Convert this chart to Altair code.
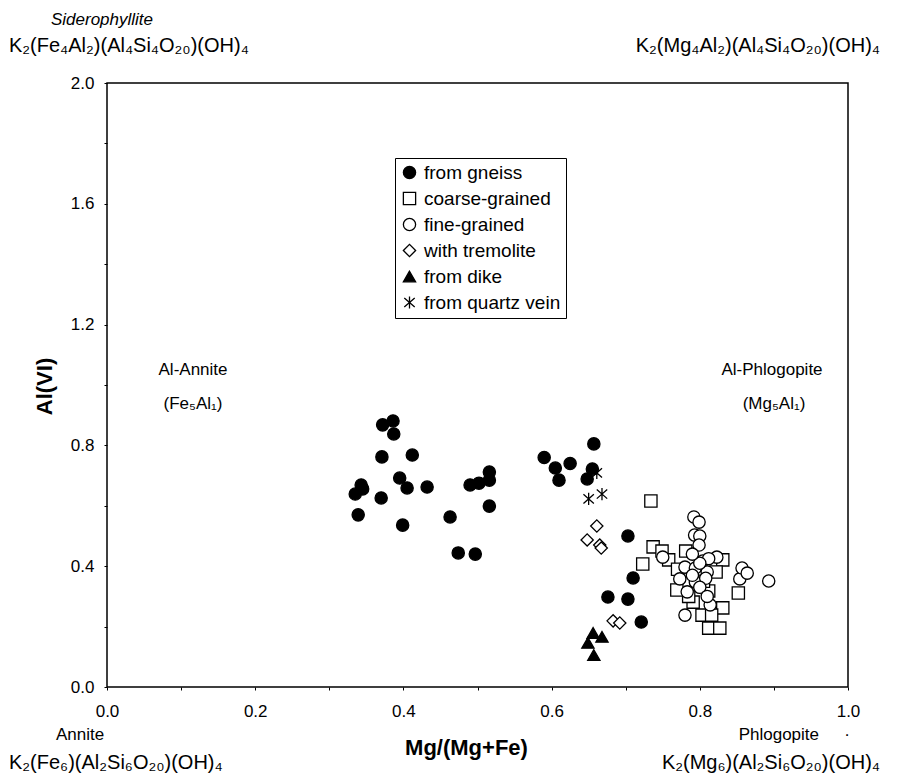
import altair as alt
import pandas as pd

# ---------------- data ----------------
categories = ["from gneiss", "coarse-grained", "fine-grained",
              "with tremolite", "from dike", "from quartz vein"]

gneiss_x = [0.372, 0.386, 0.387, 0.371, 0.412, 0.395, 0.405, 0.432, 0.343, 0.335,
            0.345, 0.370, 0.339, 0.399, 0.463, 0.490, 0.502, 0.516, 0.516, 0.516,
            0.474, 0.497, 0.590, 0.605, 0.625, 0.610, 0.648, 0.655, 0.657, 0.703,
            0.710, 0.676, 0.703, 0.721]
gneiss_y = [0.868, 0.881, 0.838, 0.762, 0.768, 0.692, 0.659, 0.662, 0.669, 0.639,
            0.656, 0.626, 0.570, 0.536, 0.563, 0.669, 0.675, 0.712, 0.685, 0.599,
            0.444, 0.440, 0.760, 0.725, 0.740, 0.685, 0.689, 0.722, 0.805, 0.500,
            0.361, 0.298, 0.291, 0.215]

coarse_x = [0.734, 0.737, 0.749, 0.758, 0.723, 0.781, 0.831, 0.822, 0.812, 0.769,
            0.791, 0.831, 0.803, 0.816, 0.812, 0.827, 0.852, 0.785, 0.805, 0.770]
coarse_y = [0.616, 0.464, 0.450, 0.421, 0.407, 0.450, 0.421, 0.381, 0.318, 0.321,
            0.281, 0.262, 0.238, 0.238, 0.195, 0.195, 0.311, 0.300, 0.350, 0.390]

fine_x = [0.792, 0.799, 0.793, 0.800, 0.799, 0.750, 0.823, 0.804, 0.812, 0.780,
          0.794, 0.810, 0.800, 0.773, 0.794, 0.790, 0.808, 0.783, 0.800, 0.814,
          0.810, 0.780, 0.854, 0.857, 0.864, 0.893, 0.790]
fine_y = [0.563, 0.546, 0.503, 0.500, 0.470, 0.430, 0.430, 0.417, 0.425, 0.397,
          0.394, 0.381, 0.410, 0.358, 0.348, 0.370, 0.360, 0.315, 0.330, 0.272,
          0.300, 0.238, 0.358, 0.394, 0.377, 0.351, 0.440]

trem_x = [0.661, 0.648, 0.665, 0.667, 0.683, 0.692]
trem_y = [0.533, 0.487, 0.470, 0.460, 0.219, 0.212]

dike_x = [0.656, 0.668, 0.649, 0.657]
dike_y = [0.179, 0.166, 0.146, 0.106]

vein_x = [0.661, 0.650, 0.668]
vein_y = [0.709, 0.623, 0.639]

x_ticks = [round(i * 0.1, 1) for i in range(11)]
y_ticks = [round(i * 0.2, 1) for i in range(11)]

groups = [(categories[0], gneiss_x, gneiss_y), (categories[1], coarse_x, coarse_y),
          (categories[2], fine_x, fine_y), (categories[3], trem_x, trem_y),
          (categories[4], dike_x, dike_y), (categories[5], vein_x, vein_y)]
rows = []
for name, xs, ys in groups:
    for a, b in zip(xs, ys):
        rows.append({"mg": a, "al": b, "type": name})
df = pd.DataFrame(rows)

asterisk = "M0,-1L0,1M-0.85,-0.75L0.85,0.75M-0.85,0.75L0.85,-0.75"

FONT = "Liberation Sans"

leg = dict(title=None, orient="none", legendX=288, legendY=75)

points = alt.Chart(df).mark_point(filled=False, stroke="black", strokeWidth=1.3, opacity=1).encode(
    x=alt.X("mg:Q", scale=alt.Scale(domain=[0, 1], nice=False, zero=False),
            axis=alt.Axis(values=x_ticks, title="Mg/(Mg+Fe)", grid=False,
                          labelExpr="round(datum.value*10) % 2 == 0 ? format(datum.value, '.1f') : ''",
                          tickSize=3, labelPadding=13, domain=False, labelFlush=False,
                          titleX=359, titleY=60, titleBaseline="middle",
                          titleFontWeight="bold", titleFontSize=22)),
    y=alt.Y("al:Q", scale=alt.Scale(domain=[0, 2], nice=False, zero=False),
            axis=alt.Axis(values=y_ticks, title="Al(VI)", grid=False,
                          labelExpr="round(datum.value*5) % 2 == 0 ? format(datum.value, '.1f') : ''",
                          tickSize=3, labelPadding=10, domain=False, labelFlush=False,
                          titleX=-63, titleY=303, titleAngle=270, titleBaseline="middle",
                          titleAlign="center",
                          titleFontWeight="bold", titleFontSize=22)),
    shape=alt.Shape("type:N", scale=alt.Scale(domain=categories,
                    range=["circle", "square", "circle", "diamond", "triangle-up", asterisk]),
                    legend=alt.Legend(strokeColor="black", fillColor="white", padding=5,
                                      labelFontSize=19, labelFont=FONT, rowPadding=6,
                                      labelOffset=5,
                                      symbolStrokeColor="black", symbolStrokeWidth=1.3,
                                      labelLimit=300, symbolOffset=0, **leg)),
    fill=alt.Fill("type:N", scale=alt.Scale(domain=categories,
                  range=["black", "white", "white", "white", "black", "white"]),
                  legend=alt.Legend(**leg)),
    size=alt.Size("type:N", scale=alt.Scale(domain=categories,
                  range=[150, 150, 200, 140, 110, 150]),
                  legend=alt.Legend(**leg)),
)

# annotation texts (positions in pixels relative to the plot area)
ann_text = ["Siderophyllite",
            "K₂(Fe₄Al₂)(Al₄Si₄O₂₀)(OH)₄",
            "K₂(Mg₄Al₂)(Al₄Si₄O₂₀)(OH)₄",
            "Al-Annite", "(Fe₅Al₁)",
            "Al-Phlogopite", "(Mg₅Al₁)",
            "Annite", "K₂(Fe₆)(Al₂Si₆O₂₀)(OH)₄",
            "Phlogopite", "·",
            "K₂(Mg₆)(Al₂Si₆O₂₀)(OH)₄"]

def txt(t, px, py, size, align="center", italic=False):
    return alt.Chart(pd.DataFrame({"t": [t]})).mark_text(
        align=align, baseline="middle", fontSize=size, font=FONT,
        fontStyle="italic" if italic else "normal", color="black"
    ).encode(text="t:N", x=alt.value(px), y=alt.value(py))

texts = [
    txt(ann_text[0], -5, -63, 17, italic=True),
    txt(ann_text[1], -98, -37, 20, align="left"),
    txt(ann_text[2], 773, -37, 20, align="right"),
    txt(ann_text[3], 86, 287, 17),
    txt(ann_text[4], 86, 321, 17),
    txt(ann_text[5], 665, 287, 17),
    txt(ann_text[6], 667, 321, 17),
    txt(ann_text[7], -27, 652, 17),
    txt(ann_text[8], -98, 680, 20, align="left"),
    txt(ann_text[9], 712, 652, 17, align="right"),
    txt(ann_text[10], 740, 652, 17),
    txt(ann_text[11], 773, 680, 20, align="right"),
]

chart = alt.layer(points, *texts).properties(
    width=741, height=604,
    padding={"left": 99, "top": 75, "right": 41, "bottom": 88},
    autosize=alt.AutoSizeParams(type="none"),
).configure_view(stroke="black", strokeWidth=1.5).configure_axis(
    labelFont=FONT, titleFont=FONT, labelFontSize=17, labelColor="black",
    tickColor="black", titleColor="black"
).configure_legend(labelFont=FONT)

chart.save("out.html", embed_options={"renderer": "svg", "actions": False})
